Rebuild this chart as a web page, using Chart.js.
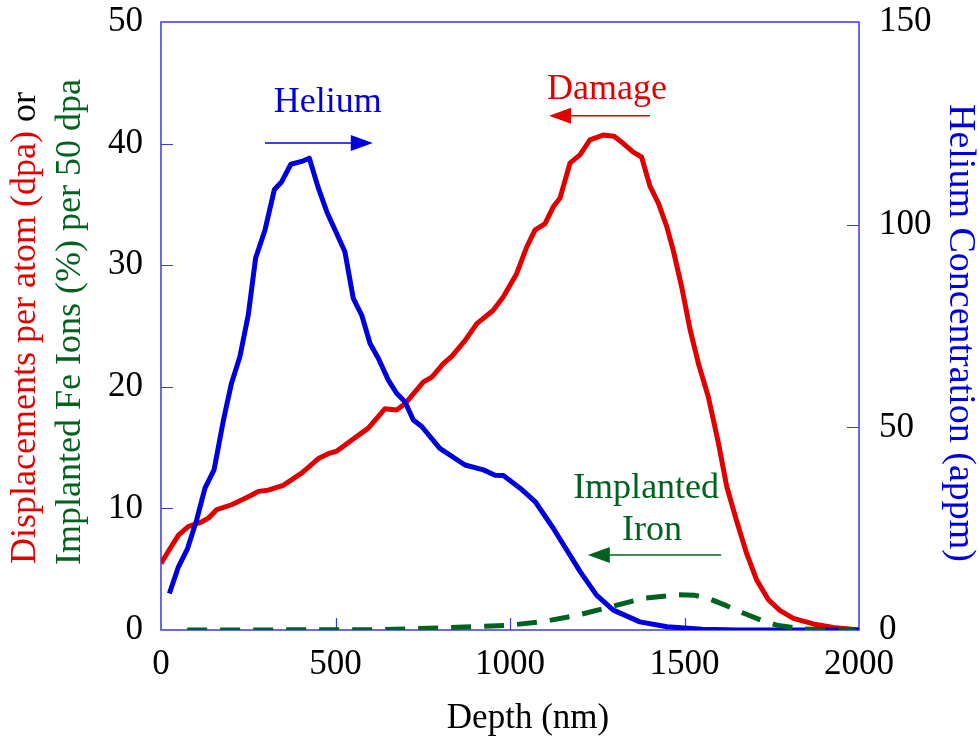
<!DOCTYPE html>
<html><head><meta charset="utf-8">
<script src="https://cdn.jsdelivr.net/npm/chart.js@4.4.1/dist/chart.umd.min.js"></script>
<style>html,body{margin:0;padding:0;background:#fff}canvas{display:block}</style>
</head><body>
<canvas id="c" width="979" height="740"></canvas>
<script>
// ---- data ----
const heliumDepth = [24,50,76,102,126,152,179,202,226,250,271,298,325,346,372,403,425,451,475,503,527,551,575,599,623,651,675,699,723,747,799,871,924,957,981,1029,1072,1124,1201,1248,1296,1372,1450,1550,1650,2000];
const heliumAppm  = [9.0,15.6,20.1,27.1,35.0,39.5,51.8,60.9,67.4,77.7,91.7,98.7,108.7,110.6,114.9,115.6,116.4,109.0,103.2,97.9,93.3,81.8,77.7,70.7,67.0,61.7,58.4,56.3,51.8,50.2,44.8,40.7,39.5,38.2,38.1,35.0,31.7,25.1,14.4,8.6,4.9,2.0,0.8,0.2,0,0];

const damageDepth = [0,26,50,78,117,136,160,202,231,260,279,307,350,403,451,479,503,546,594,642,675,699,752,776,809,833,871,905,952,981,1019,1048,1072,1100,1124,1143,1172,1201,1229,1267,1298,1325,1353,1377,1401,1425,1449,1468,1492,1516,1540,1568,1597,1621,1649,1678,1707,1740,1774,1812,1869,1926,2000];
const damageDpa   = [5.48,6.7,7.8,8.5,8.9,9.2,9.9,10.3,10.7,11.1,11.4,11.5,11.9,12.9,14.1,14.5,14.7,15.6,16.6,18.2,18.1,18.6,20.4,20.8,21.9,22.5,23.8,25.2,26.3,27.4,29.3,31.5,32.9,33.4,34.8,35.5,38.4,39.1,40.3,40.7,40.6,40.0,39.3,38.9,36.5,35.1,33.2,31.2,28.2,24.7,21.9,19.2,15.4,11.8,9.0,6.3,4.1,2.5,1.6,0.96,0.5,0.2,0];

const ironDepth = [75,600,700,828,923,1000,1096,1191,1287,1382,1478,1530,1573,1620,1668,1720,1764,1831,1900,1990];
const ironPct   = [0,0.02,0.08,0.2,0.3,0.4,0.7,1.2,1.9,2.6,2.9,2.85,2.55,2.0,1.4,0.8,0.4,0.1,0.02,0];

const xTickValues = [0,500,1000,1500,2000];
const leftTickValues = [0,10,20,30,40,50];
const rightTickValues = [0,50,100,150];

const xTitle = 'Depth (nm)';
const leftTitleLine1 = [['Displacements per atom (dpa)', 'red'], [' or', 'black']];
const leftTitleLine2 = [['Implanted Fe Ions (%) per 50 dpa', 'green']];
const rightTitle = 'Helium Concentration (appm)';

// annotations in data coordinates (depth, left-axis value)
const annotations = [
  {text:'Helium', x:478, y:42.6, color:'blue'},
  {text:'Damage', x:1278, y:43.7, color:'red'},
  {text:'Implanted', x:1390, y:10.85, color:'green'},
  {text:'Iron', x:1407, y:7.4, color:'green'}
];
const arrows = [
  {from:298, to:607, y:40.05, color:'blue'},
  {from:1401, to:1112, y:42.3, color:'red'},
  {from:1605, to:1223, y:6.17, color:'green'}
];

// ---- styles ----
const COLORS = {red:'#e00000', blue:'#0000dc', green:'#00621e', black:'#000000'};
const FONT = '"Liberation Serif", "Times New Roman", Times, serif';
const FRAME = '#3a3ad8';

const pts = (xs, ys) => xs.map((x,i)=>({x, y: ys[i]}));

const decor = {
  id:'decor',
  beforeDatasetsDraw(chart){
    const {ctx, chartArea:a, scales} = chart;
    ctx.save();
    ctx.strokeStyle = FRAME; ctx.lineWidth = 1.5;
    ctx.strokeRect(a.left, a.top, a.right-a.left, a.bottom-a.top);
    ctx.beginPath();
    leftTickValues.slice(1,-1).forEach(v=>{const y=Math.round(scales.y.getPixelForValue(v))+0.5; ctx.moveTo(a.left,y); ctx.lineTo(a.left+12,y);});
    rightTickValues.slice(1,-1).forEach(v=>{const y=Math.round(scales.y2.getPixelForValue(v))+0.5; ctx.moveTo(a.right,y); ctx.lineTo(a.right-12,y);});
    xTickValues.slice(1,-1).forEach(v=>{const x=Math.round(scales.x.getPixelForValue(v))+0.5; ctx.moveTo(x,a.bottom); ctx.lineTo(x,a.bottom-12);});
    ctx.lineWidth = 1.2;
    ctx.stroke();
    ctx.restore();
  },
  afterDatasetsDraw(chart){
    const {ctx, chartArea:a, scales} = chart;
    ctx.save();
    // x title
    ctx.font = '35px ' + FONT;
    ctx.fillStyle = '#000';
    ctx.textAlign = 'center'; ctx.textBaseline = 'alphabetic';
    ctx.fillText(xTitle, 528, 728);
    // left title (two lines, rotated)
    ctx.font = '36px ' + FONT;
    const drawRotLine = (segs, bx, cy) => {
      ctx.save();
      ctx.translate(bx, cy); ctx.rotate(-Math.PI/2);
      ctx.textAlign = 'left';
      const total = segs.reduce((s,[t])=>s+ctx.measureText(t).width,0);
      let x = -total/2;
      segs.forEach(([t,c])=>{ctx.fillStyle = COLORS[c]; ctx.fillText(t, x, 0); x += ctx.measureText(t).width;});
      ctx.restore();
    };
    drawRotLine(leftTitleLine1, 35, 328);
    drawRotLine(leftTitleLine2, 80, 322);
    // right title
    ctx.save();
    ctx.font = '38px ' + FONT;
    ctx.translate(950, 333); ctx.rotate(Math.PI/2);
    ctx.textAlign = 'center'; ctx.fillStyle = COLORS.blue;
    ctx.fillText(rightTitle, 0, 0);
    ctx.restore();
    // annotations
    ctx.font = '36px ' + FONT;
    ctx.textAlign = 'center';
    annotations.forEach(an=>{
      ctx.fillStyle = COLORS[an.color];
      ctx.fillText(an.text, scales.x.getPixelForValue(an.x), scales.y.getPixelForValue(an.y));
    });
    arrows.forEach(ar=>{
      const x1 = scales.x.getPixelForValue(ar.from), x2 = scales.x.getPixelForValue(ar.to);
      const y = scales.y.getPixelForValue(ar.y);
      const dir = Math.sign(x2-x1);
      ctx.strokeStyle = COLORS[ar.color]; ctx.fillStyle = COLORS[ar.color];
      ctx.lineWidth = 1.5;
      ctx.beginPath(); ctx.moveTo(x1,y); ctx.lineTo(x2 - dir*20, y); ctx.stroke();
      ctx.beginPath(); ctx.moveTo(x2,y); ctx.lineTo(x2-dir*22, y-8); ctx.lineTo(x2-dir*22, y+8); ctx.closePath(); ctx.fill();
    });
    ctx.restore();
  }
};

const tickFont = {family: FONT, size: 35};
// tiny lineHeight keeps Chart.js from reserving extra room above the top tick label
const yTickFont = {family: FONT, size: 35, lineHeight: 0.1};
const plain = v => String(v);

new Chart(document.getElementById('c'), {
  type:'line',
  data:{
    datasets:[
      {label:'Implanted Iron', data: pts(ironDepth, ironPct), yAxisID:'y', borderColor:COLORS.green, borderWidth:5, borderDash:[20,13], pointRadius:0, tension:0, fill:false},
      {label:'Helium', data: pts(heliumDepth, heliumAppm), yAxisID:'y2', borderColor:COLORS.blue, borderWidth:5, pointRadius:0, tension:0, fill:false},
      {label:'Damage', data: pts(damageDepth, damageDpa), yAxisID:'y', borderColor:COLORS.red, borderWidth:5, pointRadius:0, tension:0, fill:false}
    ]
  },
  options:{
    responsive:false, devicePixelRatio:1, animation:false,
    layout:{padding:{top:22, left:0, right:0, bottom:0}, autoPadding:false},
    plugins:{legend:{display:false}, tooltip:{enabled:false}},
    elements:{line:{borderCapStyle:'butt', borderJoinStyle:'round'}},
    scales:{
      x:{type:'linear', position:'bottom', min:0, max:2000,
         afterBuildTicks:s=>{s.ticks = xTickValues.map(v=>({value:v}));},
         afterFit:s=>{s.height = 110;},
         grid:{display:false, drawTicks:false}, border:{display:false},
         ticks:{font:tickFont, color:'#000', padding:14, maxRotation:0, autoSkip:false, callback:plain}},
      y:{type:'linear', position:'left', min:0, max:50,
         afterBuildTicks:s=>{s.ticks = leftTickValues.map(v=>({value:v}));},
         afterFit:s=>{s.width = 161;},
         grid:{display:false, drawTicks:false}, border:{display:false},
         ticks:{font:yTickFont, color:'#000', padding:18, callback:plain}},
      y2:{type:'linear', position:'right', min:0, max:150,
         afterBuildTicks:s=>{s.ticks = rightTickValues.map(v=>({value:v}));},
         afterFit:s=>{s.width = 120;},
         grid:{display:false, drawTicks:false}, border:{display:false},
         ticks:{font:yTickFont, color:'#000', padding:20, callback:plain}}
    }
  },
  plugins:[decor]
});
</script>
</body></html>
